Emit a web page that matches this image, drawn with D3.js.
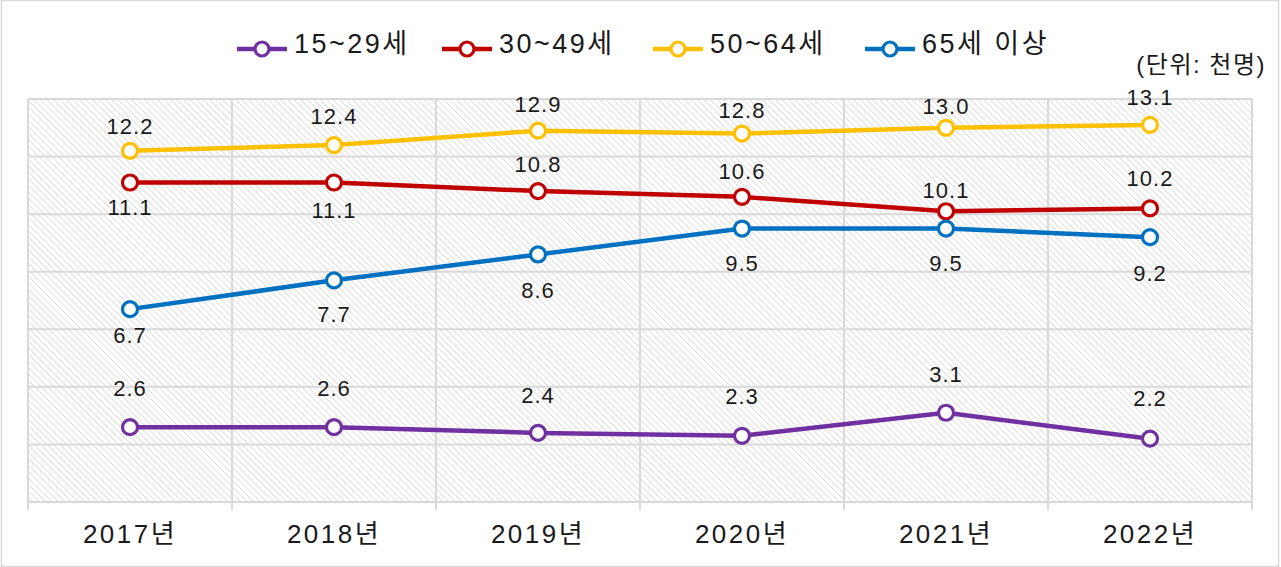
<!DOCTYPE html>
<html>
<head>
<meta charset="utf-8">
<script src="https://cdn.jsdelivr.net/npm/d3@7"></script>
<style>
  html, body { margin: 0; padding: 0; background: #fff; }
  svg { display: block; font-family: "Liberation Sans", "Noto Sans CJK KR", sans-serif; }
</style>
</head>
<body>
<svg id="chart" width="1281" height="567"></svg>
<script>
// ---- data ----
const years = ["2017년", "2018년", "2019년", "2020년", "2021년", "2022년"];
const seriesNames = ["15~29세", "30~49세", "50~64세", "65세 이상"];
const age15to29 = [2.6, 2.6, 2.4, 2.3, 3.1, 2.2];
const age30to49 = [11.1, 11.1, 10.8, 10.6, 10.1, 10.2];
const age50to64 = [12.2, 12.4, 12.9, 12.8, 13.0, 13.1];
const age65plus = [6.7, 7.7, 8.6, 9.5, 9.5, 9.2];
const unitText = "(단위: 천명)";
const yMax = 14;
const yStep = 2;

// ---- layout / style ----
const colors = ["#7030A0", "#C00000", "#FFC000", "#0070C0"];
const labelDy = [
  [-39, -39, -38, -40, -39, -41],
  [25, 28, -27, -26, -21, -30],
  [-25, -29, -27, -23, -22, -28],
  [26, 34, 36, 35, 35, 36]
];
const legendX = [237, 442, 653, 865];
const plot = { left: 28, right: 1252, top: 99, bottom: 502 };
const gridColor = "#d9d9d9";
const textColor = "#1a1a1a";

const seriesValues = [age15to29, age30to49, age50to64, age65plus];
const svg = d3.select("#chart");

// outer border
svg.append("rect").attr("x", 1.5).attr("y", 0.5).attr("width", 1277).attr("height", 566)
  .attr("fill", "#fff").attr("stroke", gridColor).attr("stroke-width", 1.5);

// hatch pattern
const defs = svg.append("defs");
const pat = defs.append("pattern").attr("id", "hatch").attr("patternUnits", "userSpaceOnUse")
  .attr("width", 4.6).attr("height", 4.6).attr("patternTransform", "rotate(45)");
pat.append("rect").attr("width", 4.6).attr("height", 4.6).attr("fill", "#fff");
pat.append("line").attr("x1", 0).attr("y1", 0).attr("x2", 4.6).attr("y2", 0)
  .attr("stroke", "#dedede").attr("stroke-width", 1.9);

const x = d3.scaleBand().domain(years).range([plot.left, plot.right]);
const y = d3.scaleLinear().domain([0, yMax]).range([plot.bottom, plot.top]);

svg.append("rect").attr("x", plot.left).attr("y", plot.top)
  .attr("width", plot.right - plot.left).attr("height", plot.bottom - plot.top)
  .attr("fill", "url(#hatch)");

// horizontal gridlines
const yTicks = d3.range(0, yMax + 0.001, yStep);
svg.append("g").selectAll("line").data(yTicks).join("line")
  .attr("x1", plot.left).attr("x2", plot.right)
  .attr("y1", d => y(d)).attr("y2", d => y(d))
  .attr("stroke", gridColor).attr("stroke-width", 2);

// vertical gridlines / ticks at band boundaries
const bounds = years.map(d => x(d)).concat([x(years[years.length - 1]) + x.bandwidth()]);
svg.append("g").selectAll("line").data(bounds).join("line")
  .attr("x1", d => d).attr("x2", d => d)
  .attr("y1", plot.top).attr("y2", plot.bottom + 8)
  .attr("stroke", gridColor).attr("stroke-width", 2);

// x axis labels
const xAxis = d3.axisBottom(x).tickSize(0).tickPadding(0);
const gx = svg.append("g").attr("transform", `translate(0,${plot.bottom})`).call(xAxis);
gx.select(".domain").remove();
gx.selectAll("text")
  .attr("y", 41).attr("dy", null)
  .attr("fill", textColor)
  .style("font-size", "26px")
  .style("letter-spacing", "2.5px")
  .style("font-family", "'Liberation Sans', 'Noto Sans CJK KR', sans-serif");

// lines and markers
const cx = d => x(d) + x.bandwidth() / 2;
const fmt = d3.format(".1f");
seriesValues.forEach((vals, si) => {
  const pts = vals.map((v, i) => ({ year: years[i], v, i }));
  const line = d3.line().x(d => cx(d.year)).y(d => y(d.v));
  svg.append("path").datum(pts).attr("d", line)
    .attr("fill", "none").attr("stroke", colors[si]).attr("stroke-width", 4.5)
    .attr("stroke-linejoin", "round");
  svg.append("g").selectAll("circle").data(pts).join("circle")
    .attr("cx", d => cx(d.year)).attr("cy", d => y(d.v)).attr("r", 7.5)
    .attr("fill", "#fff").attr("stroke", colors[si]).attr("stroke-width", 3.2);
});
// data labels
seriesValues.forEach((vals, si) => {
  const pts = vals.map((v, i) => ({ year: years[i], v, i }));
  svg.append("g").selectAll("text").data(pts).join("text")
    .attr("x", d => cx(d.year)).attr("y", d => y(d.v) + labelDy[si][d.i])
    .attr("dy", "0.36em").attr("text-anchor", "middle")
    .attr("fill", textColor).style("font-size", "22px").style("letter-spacing", "1px")
    .text(d => fmt(d.v));
});

// legend
const lg = svg.append("g");
seriesNames.forEach((name, si) => {
  const g = lg.append("g").attr("transform", `translate(${legendX[si]},49)`);
  g.append("line").attr("x1", 0).attr("x2", 50).attr("y1", 0).attr("y2", 0)
    .attr("stroke", colors[si]).attr("stroke-width", 4.5);
  g.append("circle").attr("cx", 25).attr("cy", 0).attr("r", 7)
    .attr("fill", "#fff").attr("stroke", colors[si]).attr("stroke-width", 3.2);
  g.append("text").attr("x", 57).attr("y", 4)
    .attr("fill", textColor).style("font-size", "27px").style("letter-spacing", "2.5px")
    .text(name);
});

// unit
svg.append("text").attr("x", 1266).attr("y", 73).attr("text-anchor", "end")
  .attr("fill", textColor).style("font-size", "24px").style("letter-spacing", "1.5px")
  .text(unitText);
</script>
</body>
</html>
